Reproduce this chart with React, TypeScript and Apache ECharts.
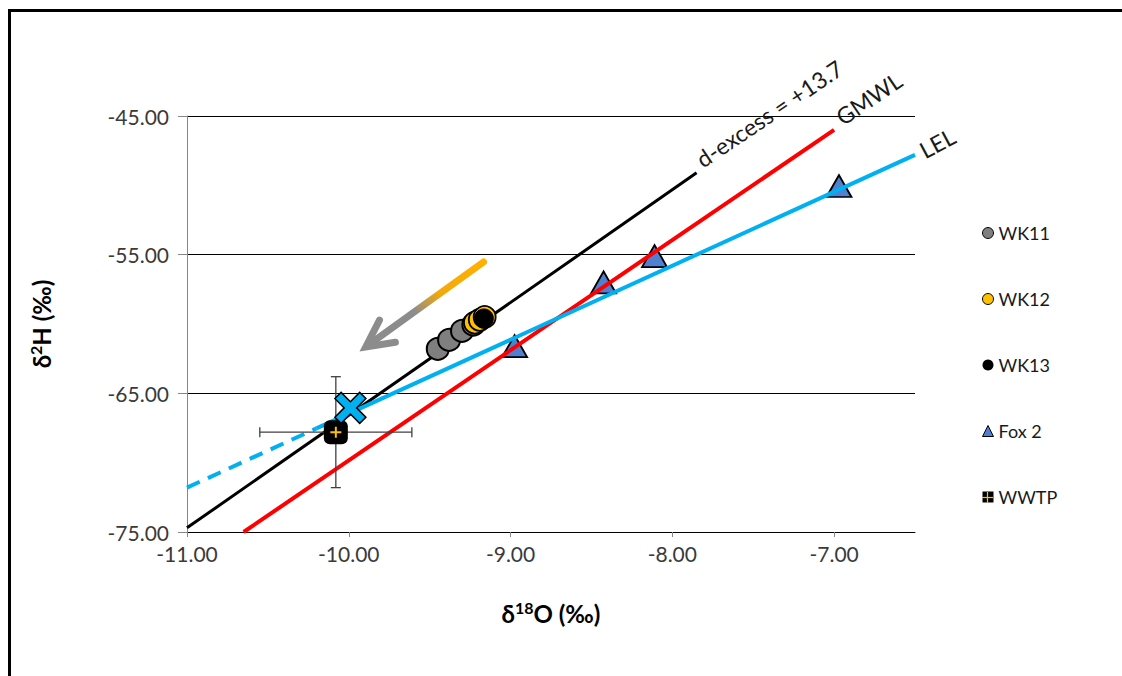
import React, { useEffect, useRef } from "react";
import * as echarts from "echarts";

// ---- data ----
const wk11 = [[-9.45, -61.8], [-9.38, -61.15], [-9.3, -60.5], [-9.23, -60.05]];
const wk12 = [[-9.22, -59.9], [-9.19, -59.7], [-9.16, -59.5]];
const wk13 = [[-9.165, -59.6]];
const fox2 = [[-8.975, -61.6], [-8.425, -57.0], [-8.11, -55.1], [-6.97, -50.05]];
const wwtp = [[-10.08, -67.8]];
const wwtpError = [[-10.08, -67.8, 0.47, 4.0]]; // x, y, ±δ18O, ±δ2H
const mixPoint = [[-9.99, -66.05]];
const gmwl = [[-10.65, -75.0], [-7.0, -46.0]];
const dExcess = [[-11.0, -74.7], [-7.85, -49.1]];
const lelDashed = [[-11.0, -71.8], [-10.2, -67.53]];
const lelSolid = [[-10.2, -67.53], [-6.5, -47.8]];
const evapArrow = [[-9.167, -55.53, -9.895, -61.65]];
const legendNames = ["WK11", "WK12", "WK13", "Fox 2", "WWTP"];
const lineLabels = ["d-excess = +13.7", "GMWL", "LEL"];
const lineLabelAnchors = [[-7.8, -48.95], [-6.935, -45.9], [-6.43, -48.3]];
const lineLabelAngles = [34, 34, 28];

const X_MIN = -11, X_MAX = -6.5, X_STEP = 1;
const Y_MIN = -75, Y_MAX = -45, Y_STEP = 10;

const FONT = 'Lato, "Noto Sans", sans-serif';

const X_SYMBOL = "path://M2,0 L5,3 L8,0 L10,2 L7,5 L10,8 L8,10 L5,7 L2,10 L0,8 L3,5 L0,2 Z";
const PLUS_SYMBOL = "path://M4.1,0 H5.9 V4.1 H10 V5.9 H5.9 V10 H4.1 V5.9 H0 V4.1 H4.1 Z";

const titleRich = {
  a: { fontSize: 24, fontWeight: "bold", color: "#000", fontFamily: FONT, lineHeight: 28 },
  s: { fontSize: 16, fontWeight: "bold", color: "#000", fontFamily: FONT, lineHeight: 16, verticalAlign: "top" },
};

export default function App() {
  const ref = useRef<HTMLDivElement>(null);

  useEffect(() => {
    if (!ref.current) return;
    const chart = echarts.init(ref.current, null, { renderer: "svg" });

    const option: any = {
      animation: false,
      backgroundColor: "#ffffff",
      textStyle: { fontFamily: FONT },
      grid: { left: 187, right: 207, top: 116, bottom: 144, containLabel: false },
      xAxis: {
        type: "value",
        min: X_MIN,
        max: X_MAX,
        interval: X_STEP,
        name: "{a|δ}{s|18}{a|O (‰)}",
        nameLocation: "middle",
        nameGap: 67,
        nameTextStyle: { rich: titleRich },
        axisLine: { show: true, onZero: false, lineStyle: { color: "#000", width: 1 } },
        axisTick: { show: true, length: 5, lineStyle: { color: "#868686" } },
        axisLabel: {
          formatter: (v: number) => v.toFixed(2),
          fontSize: 21,
          color: "#3a3a3a",
          margin: 11,
          showMaxLabel: false,
          fontFamily: FONT,
        },
        splitLine: { show: false },
      },
      yAxis: {
        type: "value",
        min: Y_MIN,
        max: Y_MAX,
        interval: Y_STEP,
        name: "{a|δ}{s|2}{a|H (‰)}",
        nameLocation: "middle",
        nameGap: 132,
        nameTextStyle: { rich: titleRich },
        axisLine: { show: true, lineStyle: { color: "#868686", width: 1 } },
        axisTick: { show: true, length: 9, lineStyle: { color: "#868686" } },
        axisLabel: {
          formatter: (v: number) => v.toFixed(2),
          fontSize: 21,
          color: "#3a3a3a",
          margin: 18,
          fontFamily: FONT,
        },
        splitLine: { show: true, lineStyle: { color: "#000", width: 1 } },
      },
      legend: {
        orient: "vertical",
        left: 982,
        top: 223,
        padding: 0,
        itemWidth: 11,
        itemHeight: 11,
        itemGap: 46,
        selectedMode: false,
        textStyle: { fontSize: 18, lineHeight: 20, color: "#1a1a1a", fontFamily: FONT },
        data: [
          { name: legendNames[0], icon: "circle", itemStyle: { borderWidth: 1 } },
          { name: legendNames[1], icon: "circle", itemStyle: { borderWidth: 1 } },
          { name: legendNames[2], icon: "circle", itemStyle: { borderWidth: 0 } },
          { name: legendNames[3], icon: "triangle", itemStyle: { borderWidth: 1 } },
          { name: legendNames[4], icon: "rect", itemStyle: { borderWidth: 0 } },
        ],
      },
      series: [
        {
          name: "d-excess line",
          type: "line",
          data: dExcess,
          symbol: "none",
          lineStyle: { color: "#000", width: 3 },
          z: 2,
          silent: true,
        },
        {
          name: legendNames[3],
          type: "scatter",
          data: fox2,
          symbol: "triangle",
          symbolSize: [25, 22],
          itemStyle: { color: "#4F81D0", borderColor: "#000", borderWidth: 1.8, opacity: 1 },
          z: 3,
        },
        {
          name: "GMWL",
          type: "line",
          data: gmwl,
          symbol: "none",
          lineStyle: { color: "#FF0000", width: 4 },
          z: 4,
          silent: true,
        },
        {
          name: "LEL dashed",
          type: "line",
          data: lelDashed,
          symbol: "none",
          lineStyle: { color: "#00B0F0", width: 4, type: [14, 9] },
          z: 4,
          silent: true,
        },
        {
          name: "LEL",
          type: "line",
          data: lelSolid,
          symbol: "none",
          lineStyle: { color: "#00B0F0", width: 4 },
          z: 4,
          silent: true,
        },
        {
          name: "arrow",
          type: "custom",
          data: evapArrow,
          encode: { x: [0, 2], y: [1, 3] },
          z: 5,
          silent: true,
          renderItem: (params: any, api: any) => {
            const a = api.coord([api.value(0), api.value(1)]);
            const b = api.coord([api.value(2), api.value(3)]);
            const dx = b[0] - a[0];
            const dy = b[1] - a[1];
            const len = Math.hypot(dx, dy);
            const ux = dx / len;
            const uy = dy / len;
            const L = 30;
            const th = (27 * Math.PI) / 180;
            const bx = -ux;
            const by = -uy;
            const r1 = [bx * Math.cos(th) - by * Math.sin(th), bx * Math.sin(th) + by * Math.cos(th)];
            const r2 = [bx * Math.cos(-th) - by * Math.sin(-th), bx * Math.sin(-th) + by * Math.cos(-th)];
            return {
              type: "group",
              children: [
                {
                  type: "line",
                  shape: { x1: a[0], y1: a[1], x2: b[0] - ux * 3, y2: b[1] - uy * 3 },
                  style: {
                    stroke: new echarts.graphic.LinearGradient(1, 0, 0, 1, [
                      { offset: 0, color: "#FFB000" },
                      { offset: 0.38, color: "#F2A90C" },
                      { offset: 0.6, color: "#8C8C8C" },
                      { offset: 1, color: "#8C8C8C" },
                    ]),
                    lineWidth: 7,
                    lineCap: "round",
                  },
                },
                {
                  type: "polyline",
                  shape: {
                    points: [
                      [b[0] + r1[0] * L, b[1] + r1[1] * L],
                      [b[0], b[1]],
                      [b[0] + r2[0] * L, b[1] + r2[1] * L],
                    ],
                  },
                  style: { stroke: "#8C8C8C", lineWidth: 7, lineCap: "round", lineJoin: "miter", fill: null },
                },
              ],
            };
          },
        },
        {
          name: "WWTP error",
          type: "custom",
          data: wwtpError,
          z: 5,
          silent: true,
          renderItem: (params: any, api: any) => {
            const x = api.value(0);
            const y = api.value(1);
            const ex = api.value(2);
            const ey = api.value(3);
            const l = api.coord([x - ex, y]);
            const r = api.coord([x + ex, y]);
            const t = api.coord([x, y + ey]);
            const b = api.coord([x, y - ey]);
            const cap = 5;
            const st = { stroke: "#404040", lineWidth: 1.3 };
            return {
              type: "group",
              children: [
                { type: "line", shape: { x1: l[0], y1: l[1], x2: r[0], y2: r[1] }, style: st },
                { type: "line", shape: { x1: l[0], y1: l[1] - cap, x2: l[0], y2: l[1] + cap }, style: st },
                { type: "line", shape: { x1: r[0], y1: r[1] - cap, x2: r[0], y2: r[1] + cap }, style: st },
                { type: "line", shape: { x1: t[0], y1: t[1], x2: b[0], y2: b[1] }, style: st },
                { type: "line", shape: { x1: t[0] - cap, y1: t[1], x2: t[0] + cap, y2: t[1] }, style: st },
                { type: "line", shape: { x1: b[0] - cap, y1: b[1], x2: b[0] + cap, y2: b[1] }, style: st },
              ],
            };
          },
        },
        {
          name: legendNames[0],
          type: "scatter",
          data: wk11,
          symbol: "circle",
          symbolSize: 22,
          itemStyle: { color: "#7F7F7F", borderColor: "#000", borderWidth: 2, opacity: 1 },
          z: 6,
        },
        {
          name: legendNames[1],
          type: "scatter",
          data: wk12,
          symbol: "circle",
          symbolSize: 22,
          itemStyle: { color: "#FFC000", borderColor: "#000", borderWidth: 1.8, opacity: 1 },
          z: 6,
        },
        {
          name: legendNames[2],
          type: "scatter",
          data: wk13,
          symbol: "circle",
          symbolSize: 19,
          itemStyle: { color: "#000", borderColor: "#000", borderWidth: 1, opacity: 1 },
          z: 7,
        },
        {
          name: legendNames[4],
          type: "scatter",
          data: wwtp,
          symbol: "roundRect",
          symbolSize: 24,
          itemStyle: { color: "#000", opacity: 1 },
          z: 7,
        },
        {
          name: "WWTP marker",
          type: "scatter",
          data: wwtp,
          symbol: PLUS_SYMBOL,
          symbolSize: 11,
          itemStyle: { color: "#FFC000", opacity: 1 },
          z: 8,
          silent: true,
        },
        {
          name: "mixing point",
          type: "scatter",
          data: mixPoint,
          symbol: X_SYMBOL,
          symbolSize: 31,
          itemStyle: { color: "#00B0F0", borderColor: "#000", borderWidth: 1.5, opacity: 1 },
          z: 8,
        },
      ],
    };

    chart.setOption(option);

    const labelGraphics = lineLabels.map((txt, i) => {
      const p = chart.convertToPixel({ gridIndex: 0 }, lineLabelAnchors[i]) as number[];
      return {
        type: "text",
        id: "lbl" + i,
        x: p[0],
        y: p[1],
        rotation: (lineLabelAngles[i] * Math.PI) / 180,
        z: 20,
        style: {
          text: txt,
          fontSize: 23,
          fontFamily: FONT,
          fill: "#1a1a1a",
          align: "left",
          verticalAlign: "bottom",
        },
      };
    });

    chart.setOption({
      graphic: [
        {
          type: "rect",
          id: "frame",
          shape: { x: 9.5, y: 10.5, width: 1300, height: 900 },
          style: { fill: null, stroke: "#000", lineWidth: 3 },
          z: 30,
          silent: true,
        },
        {
          type: "rect",
          id: "legPlusH",
          shape: { x: 982, y: 496.9, width: 11, height: 1.2 },
          style: { fill: "#FFC000" },
          z: 30,
          silent: true,
        },
        {
          type: "rect",
          id: "legPlusV",
          shape: { x: 986.9, y: 492, width: 1.2, height: 11 },
          style: { fill: "#FFC000" },
          z: 30,
          silent: true,
        },
        ...labelGraphics,
      ],
    });

    return () => chart.dispose();
  }, []);

  return (
    <div
      ref={ref}
      style={{ position: "absolute", left: 0, top: 0, width: 1122, height: 676, background: "#fff" }}
    />
  );
}
